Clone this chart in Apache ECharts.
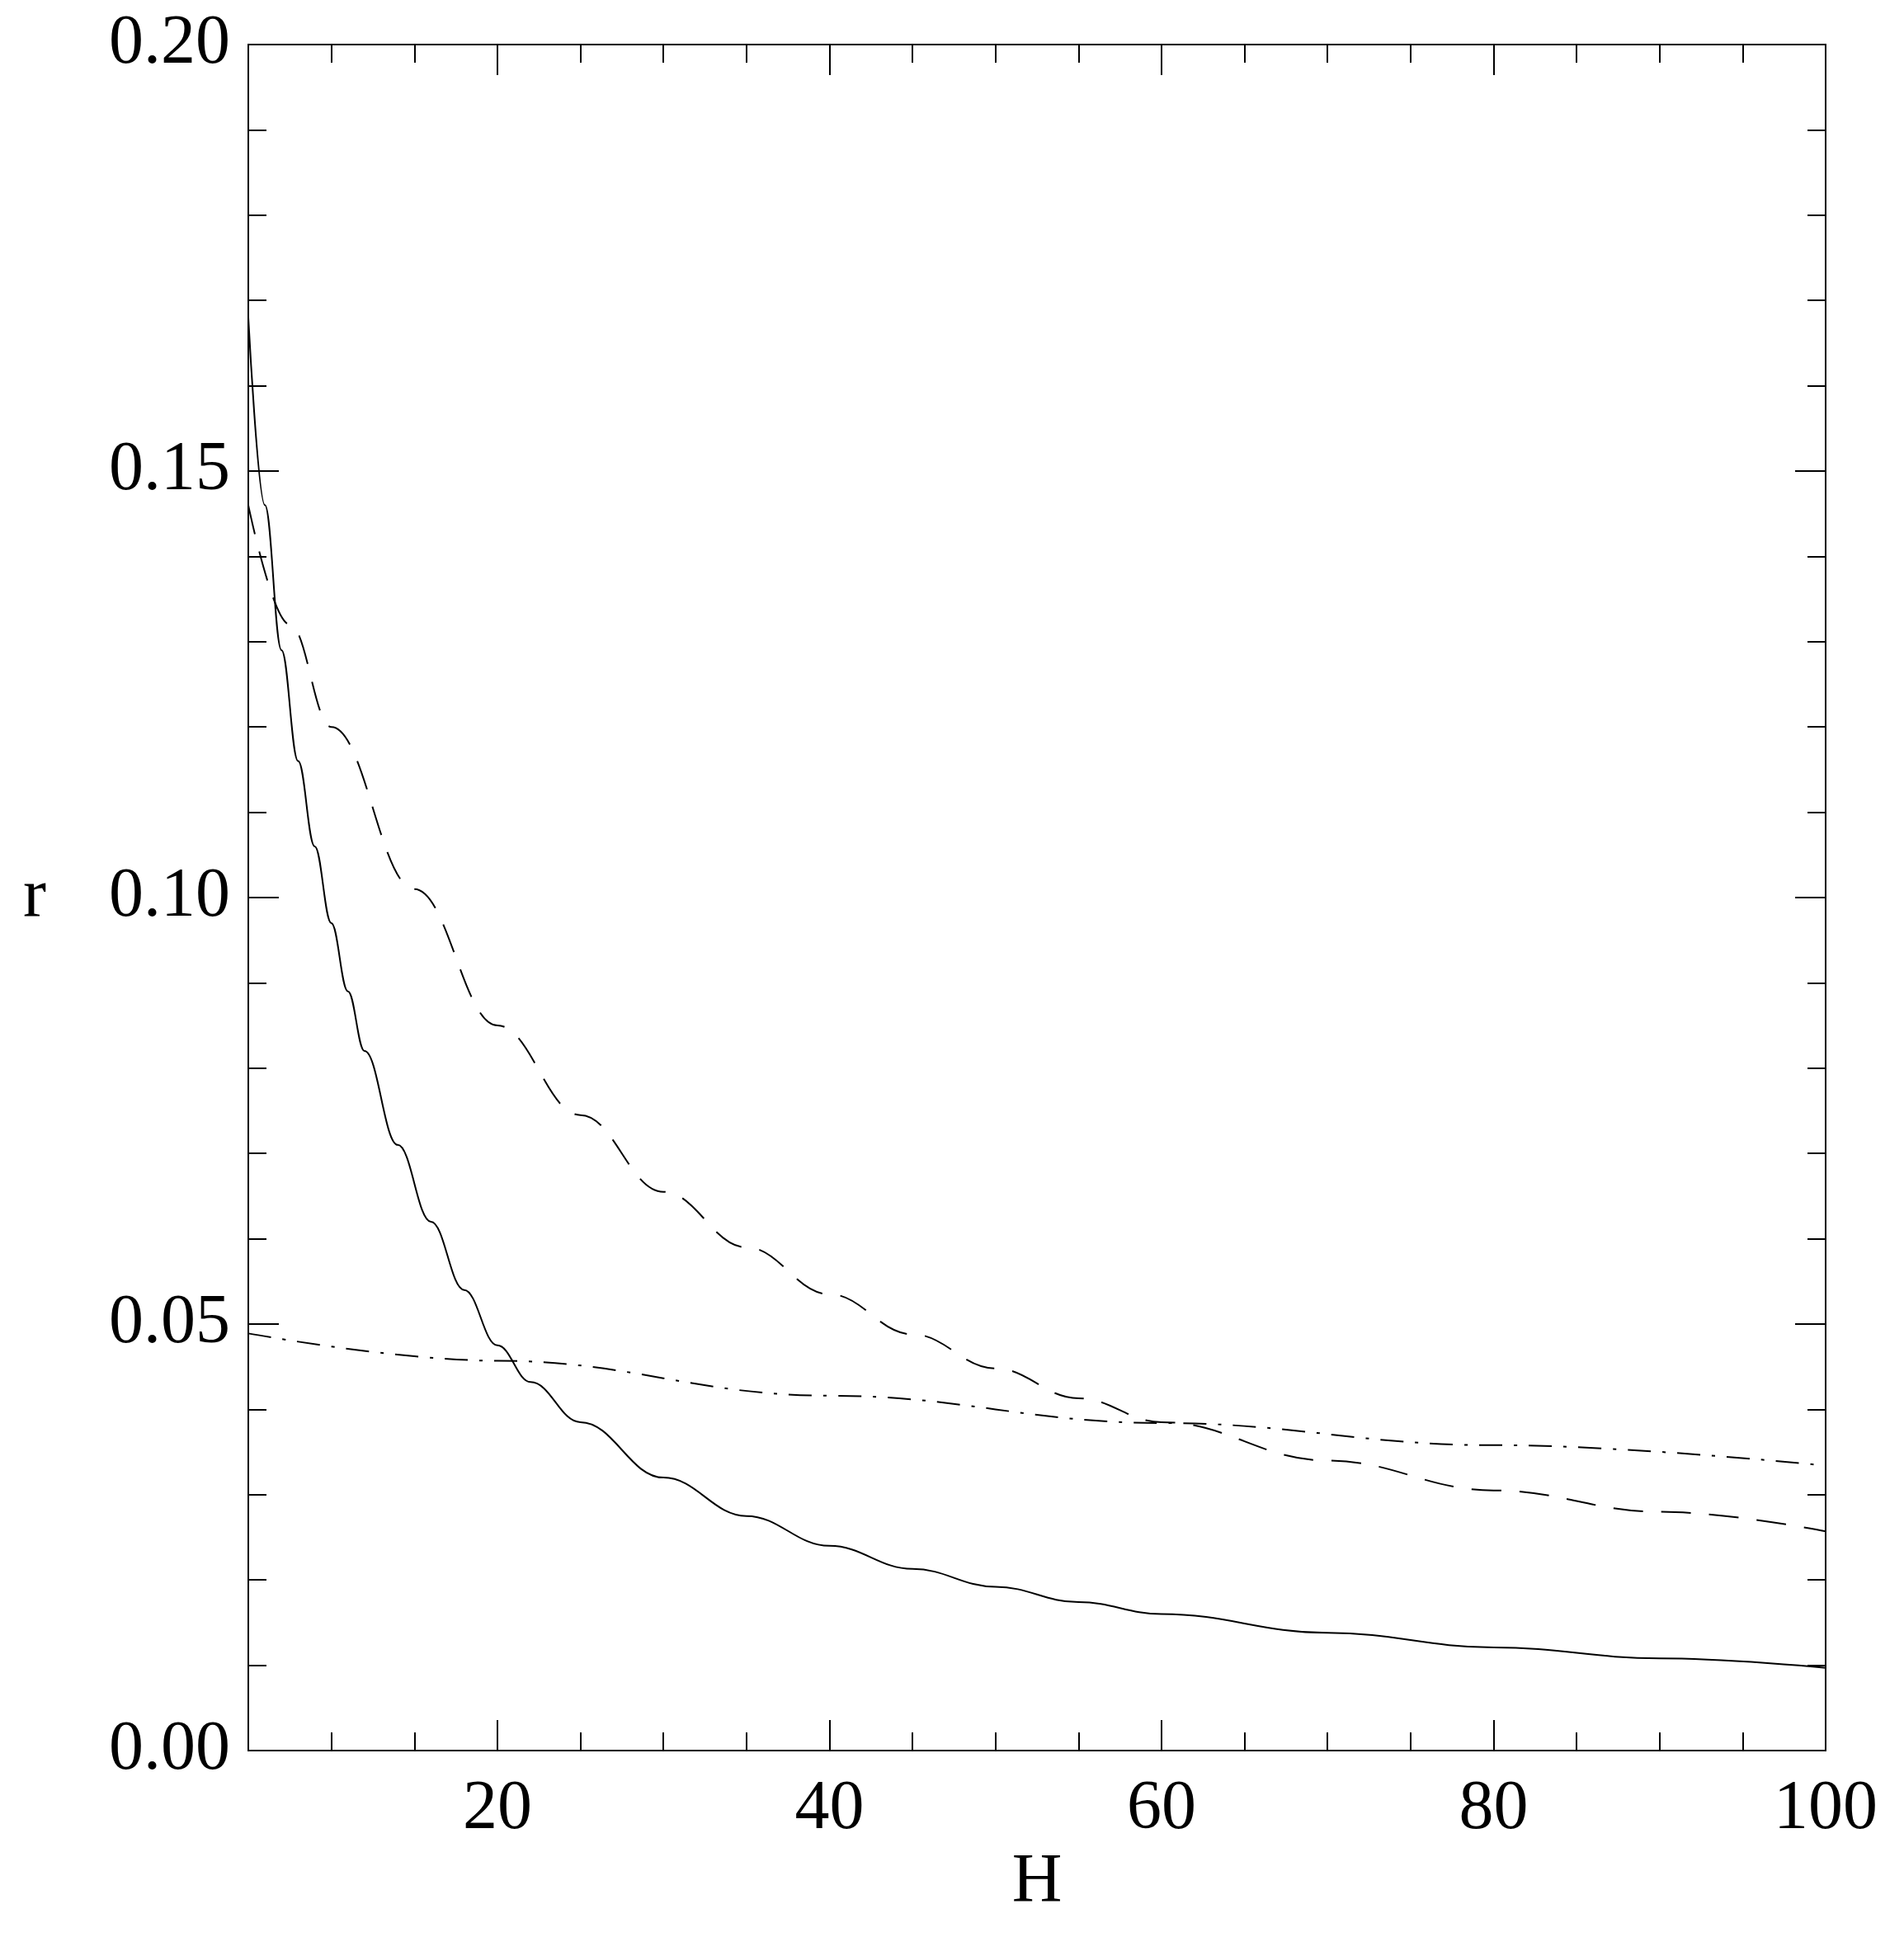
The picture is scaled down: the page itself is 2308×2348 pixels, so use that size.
<!DOCTYPE html>
<html>
<head>
<meta charset="utf-8">
<script src="https://cdn.jsdelivr.net/npm/echarts@6/dist/echarts.min.js"></script>
<style>
  html, body { margin: 0; padding: 0; background: #fff; }
  #chart { width: 2308px; height: 2348px; }
</style>
</head>
<body>
<div id="chart"></div>
<script>
// values
var hSolid = [5, 6, 7, 8, 9, 10, 11, 12, 14, 16, 18, 20, 22, 25, 30, 35, 40, 45, 50, 55, 60, 70, 80, 90, 100];
var rSolid = [0.168, 0.146, 0.129, 0.116, 0.106, 0.097, 0.089, 0.082, 0.071, 0.062, 0.054, 0.0475, 0.0432, 0.0385, 0.032, 0.0275, 0.024, 0.0213, 0.0192, 0.0174, 0.016, 0.0138, 0.0121, 0.0108, 0.0097];
var hDash = [5, 7.5, 10, 15, 20, 25, 30, 35, 40, 45, 50, 55, 60, 70, 80, 90, 100];
var rDash = [0.146, 0.132, 0.120, 0.101, 0.085, 0.0745, 0.0655, 0.059, 0.0535, 0.0488, 0.0448, 0.0413, 0.0385, 0.034, 0.0305, 0.028, 0.0257];
var hDashDot = [5, 20, 40, 60, 80, 100];
var rDashDot = [0.0489, 0.0457, 0.0416, 0.0384, 0.0358, 0.0334];
var xMajor = [20, 40, 60, 80, 100];

function pairs(xs, ys) {
	return xs.map(function (x, i) { return [x, ys[i]]; });
}

var font = 'Liberation Serif';
var lineCol = '#000';

function xAxis(pos, major, showLabel, name) {
	return {
		type: 'value', position: pos, min: 5, max: 100, interval: 5,
		name: name || '', nameLocation: 'middle', nameGap: 118,
		nameTextStyle: { fontFamily: font, fontSize: 84, color: '#000' },
		axisLine: { show: true, onZero: false, lineStyle: { color: lineCol, width: 2 } },
		axisTick: major
			? { show: true, inside: true, length: 37, customValues: xMajor, lineStyle: { color: lineCol, width: 2 } }
			: { show: true, inside: true, length: 22, lineStyle: { color: lineCol, width: 2 } },
		axisLabel: major && showLabel
			? { show: true, customValues: xMajor, margin: 30, fontFamily: font, fontSize: 84, color: '#000' }
			: { show: false },
		splitLine: { show: false }
	};
}

function yAxis(pos, showLabel, name) {
	return {
		type: 'value', position: pos, min: 0, max: 0.2, interval: 0.05,
		name: name || '', nameLocation: 'middle', nameGap: 245, nameRotate: 0,
		nameTextStyle: { fontFamily: font, fontSize: 84, color: '#000' },
		axisLine: { show: true, onZero: false, lineStyle: { color: lineCol, width: 2 } },
		axisTick: { show: true, inside: true, length: 37, lineStyle: { color: lineCol, width: 2 } },
		minorTick: { show: true, splitNumber: 5, length: 22, lineStyle: { color: lineCol, width: 2 } },
		axisLabel: { show: showLabel, margin: 22, fontFamily: font, fontSize: 84, color: '#000',
			formatter: function (v) { return v.toFixed(2); } },
		splitLine: { show: false }
	};
}

var chart = echarts.init(document.getElementById('chart'));
chart.setOption({
	backgroundColor: '#fff',
	animation: false,
	grid: { left: 301, right: 95, top: 54, bottom: 226 },
	xAxis: [
		xAxis('bottom', true, true, 'H'),
		xAxis('bottom', false, false),
		xAxis('top', true, false),
		xAxis('top', false, false)
	],
	yAxis: [
		yAxis('left', true, 'r'),
		yAxis('right', false)
	],
	series: [
		{ type: 'line', data: pairs(hSolid, rSolid), smooth: 0.4, smoothMonotone: 'x', showSymbol: false,
			lineStyle: { color: '#000', width: 2, type: 'solid' } },
		{ type: 'line', data: pairs(hDash, rDash), smooth: 0.4, smoothMonotone: 'x', showSymbol: false,
			lineStyle: { color: '#000', width: 2, type: [36, 22] } },
		{ type: 'line', data: pairs(hDashDot, rDashDot), smooth: 0.4, smoothMonotone: 'x', showSymbol: false,
			lineStyle: { color: '#000', width: 2, type: [28, 14, 4, 14] } }
	]
});
</script>
</body>
</html>
